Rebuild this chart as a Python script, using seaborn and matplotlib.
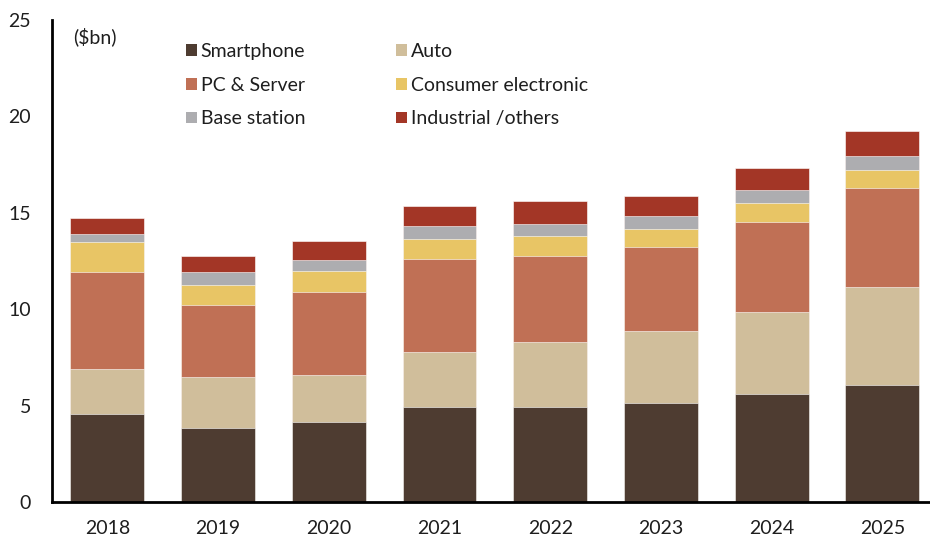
import matplotlib
matplotlib.use("Agg")
import matplotlib.pyplot as plt
from matplotlib.patches import Patch
import numpy as np
import pandas as pd
import seaborn as sns

# Market size by application, $bn
years = ["2018", "2019", "2020", "2021", "2022", "2023", "2024", "2025"]
smartphone = [4.56, 3.85, 4.17, 4.93, 4.93, 5.12, 5.59, 6.07]
auto = [2.34, 2.62, 2.43, 2.85, 3.35, 3.75, 4.28, 5.08]
pc_server = [5.05, 3.73, 4.31, 4.81, 4.48, 4.34, 4.67, 5.12]
consumer = [1.52, 1.06, 1.07, 1.05, 1.02, 0.95, 0.97, 0.97]
base_station = [0.41, 0.65, 0.56, 0.66, 0.65, 0.66, 0.67, 0.71]
industrial = [0.83, 0.85, 0.98, 1.04, 1.17, 1.04, 1.13, 1.29]

series_names = ["Smartphone", "Auto", "PC & Server", "Consumer electronic",
                "Base station", "Industrial /others"]
series_values = [smartphone, auto, pc_server, consumer, base_station, industrial]
colors = ["#4e3c31", "#d0be9b", "#c07055", "#e8c565", "#adadb0", "#a33626"]

y_ticks = [0, 5, 10, 15, 20, 25]

sns.set_theme(style="white")
plt.rcParams["font.family"] = ["Lato", "DejaVu Sans"]
text_color = "#1e1e1e"

df = pd.DataFrame({"year": years})
for name, vals in zip(series_names, series_values):
    df[name] = vals
cum = df[series_names].cumsum(axis=1)

W, H = 930, 539
fig = plt.figure(figsize=(W / 100, H / 100), dpi=100)
ax = fig.add_axes([52 / W, (H - 502) / H, (W - 52) / W, (502 - 20) / H])

# Stacked bars: draw cumulative totals from the top layer down
for name, col in reversed(list(zip(series_names, colors))):
    sns.barplot(data=pd.DataFrame({"year": years, "v": cum[name]}), x="year", y="v",
                color=col, width=0.668, saturation=1, ax=ax,
                edgecolor="white", linewidth=0.4)

ax.set_xlim(-0.5, 7.43)
ax.set_ylim(0, 25)
ax.set_yticks(y_ticks)
ax.set_xlabel("")
ax.set_ylabel("")
ax.tick_params(axis="both", length=0, labelsize=14, colors=text_color)
ax.tick_params(axis="y", pad=15)
ax.tick_params(axis="x", pad=13)
for s in ["top", "right"]:
    ax.spines[s].set_visible(False)
for s in ["left", "bottom"]:
    ax.spines[s].set_color("black")
    ax.spines[s].set_linewidth(2)
ax.grid(False)

ax.text(73 / W, 1 - 37 / H, "($bn)", transform=fig.transFigure, fontsize=14,
        color=text_color, va="center", ha="left")

handles = [Patch(facecolor=c, edgecolor="none") for c in colors]
leg_kw = dict(frameon=False, fontsize=14, handlelength=0.55, handleheight=0.55,
              handletextpad=0.2, labelspacing=0.86, borderpad=0, borderaxespad=0,
              labelcolor=text_color, loc="upper left")
fig.legend([handles[0], handles[2], handles[4]],
           [series_names[0], series_names[2], series_names[4]],
           bbox_to_anchor=(186 / W, 1 - 43 / H), **leg_kw)
fig.legend([handles[1], handles[3], handles[5]],
           [series_names[1], series_names[3], series_names[5]],
           bbox_to_anchor=(396 / W, 1 - 43 / H), **leg_kw)

fig.savefig("out.png", dpi=100)
